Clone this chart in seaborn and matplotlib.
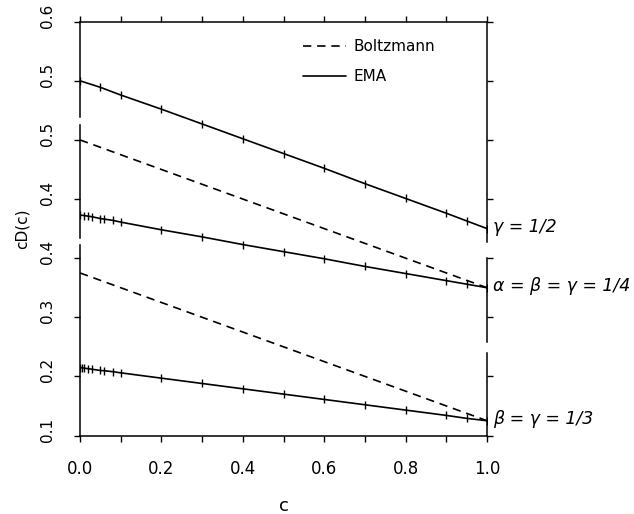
import matplotlib
matplotlib.use("Agg")
import matplotlib.pyplot as plt
from matplotlib.lines import Line2D
from matplotlib.transforms import ScaledTranslation
import seaborn as sns
import pandas as pd

# ---------------- data ----------------
c_top = [0.0, 0.05, 0.1, 0.2, 0.3, 0.4, 0.5, 0.6, 0.7, 0.8, 0.9, 0.95, 1.0]
ema_top = [0.500, 0.489, 0.476, 0.452, 0.427, 0.402, 0.377, 0.352, 0.326, 0.301, 0.276, 0.263, 0.250]

c_mid = [0.0, 0.01, 0.02, 0.03, 0.05, 0.06, 0.08, 0.1, 0.2, 0.3, 0.4, 0.5, 0.6, 0.7, 0.8, 0.9, 0.95, 1.0]
ema_mid = [0.373, 0.372, 0.371, 0.370, 0.367, 0.366, 0.364, 0.361, 0.348, 0.336, 0.323, 0.311,
           0.299, 0.286, 0.274, 0.262, 0.256, 0.250]

c_bot = [0.0, 0.005, 0.01, 0.02, 0.03, 0.05, 0.06, 0.08, 0.1, 0.2, 0.3, 0.4, 0.5, 0.6, 0.7, 0.8,
         0.9, 0.95, 1.0]
ema_bot = [0.215, 0.2145, 0.214, 0.213, 0.212, 0.210, 0.2095, 0.208, 0.206, 0.197, 0.188, 0.179,
           0.170, 0.161, 0.152, 0.143, 0.134, 0.129, 0.125]

c_boltz = [0.0, 0.5, 1.0]
boltz_mid = [0.500, 0.375, 0.250]
boltz_bot = [0.375, 0.250, 0.125]

panel_labels = ["γ = 1/2", "α = β = γ = 1/4", "β = γ = 1/3"]
legend_labels = ["Boltzmann", "EMA"]
x_ticks = [0.0, 0.2, 0.4, 0.6, 0.8, 1.0]
x_minor = [0.1, 0.3, 0.5, 0.7, 0.9]
x_tick_labels = ["0.0", "0.2", "0.4", "0.6", "0.8", "1.0"]
y_left_ticks = [[0.5, 0.6], [0.4, 0.5], [0.1, 0.2, 0.3, 0.4]]
y_right_ticks = [[0.3, 0.4, 0.5, 0.6], [0.2, 0.3], [0.1, 0.2]]

# ---------------- style ----------------
sns.set_style("ticks")
plt.rcParams["font.family"] = ["DejaVu Sans"]
for key in ["text.color", "axes.labelcolor", "xtick.color", "ytick.color", "axes.edgecolor"]:
    plt.rcParams[key] = "black"
plt.rcParams["axes.linewidth"] = 1.1
plt.rcParams["xtick.major.width"] = 1.0
plt.rcParams["ytick.major.width"] = 1.0
plt.rcParams["xtick.minor.width"] = 1.0

fig = plt.figure(figsize=(6.34, 5.14), dpi=100)
fig.patch.set_facecolor("white")
rect = [80 / 634, 1 - 435.5 / 514, 407 / 634, 413.8 / 514]

# panel layout: (y-limits, left spine bounds, right spine bounds)
ylims = [(-0.1, 0.6), (0.0, 0.7), (0.1, 0.8)]
left_bounds = [(0.439, 0.6), (0.334, 0.525), (0.1, 0.422)]
right_bounds = [(0.228, 0.6), (0.158, 0.300), (0.1, 0.240)]

ema_sets = [(c_top, ema_top), (c_mid, ema_mid), (c_bot, ema_bot)]
boltz_sets = [None, (c_boltz, boltz_mid), (c_boltz, boltz_bot)]

line_kw = dict(color="black", linewidth=1.2)
dash = (0, (5, 3.5))
label_shift = ScaledTranslation(0, 6 / 100, fig.dpi_scale_trans)

axes = []
for i in range(3):
    ax = fig.add_axes(rect, label=f"panel{i}")
    ax.patch.set_visible(False)
    ax.set_xlim(0, 1)
    ax.set_ylim(*ylims[i])

    cx, cy = ema_sets[i]
    df = pd.DataFrame({"c": cx, "cD": cy})
    sns.lineplot(data=df, x="c", y="cD", ax=ax, marker="|", markersize=5.5,
                 markeredgecolor="black", markeredgewidth=1.0, **line_kw)
    if boltz_sets[i] is not None:
        bx, by = boltz_sets[i]
        dfb = pd.DataFrame({"c": bx, "cD": by})
        sns.lineplot(data=dfb, x="c", y="cD", ax=ax, linestyle=dash, **line_kw)

    ax.annotate(panel_labels[i], xy=(1.0, cy[-1]), xycoords="data", xytext=(4.5, 1.5),
                textcoords="offset points", ha="left", va="center", fontsize=12.5,
                style="italic", annotation_clip=False)

    # left spine segment
    ax.spines["right"].set_visible(False)
    ax.spines["left"].set_bounds(*left_bounds[i])
    ax.yaxis.tick_left()
    ax.set_yticks(y_left_ticks[i], [f"{v:.1f}" for v in y_left_ticks[i]],
                  rotation=90, va="center", ha="right", fontsize=11)
    ax.tick_params(axis="y", direction="out", length=4, pad=14)
    ax.set_xlabel("")
    ax.set_ylabel("")

    if i < 2:
        ax.spines["top"].set_visible(False)
        ax.spines["bottom"].set_visible(False)
        ax.xaxis.set_visible(False)
    else:
        ax.set_xticks(x_ticks, x_tick_labels, fontsize=12)
        ax.set_xticks(x_minor, minor=True)
        ax.tick_params(axis="x", which="both", top=True, bottom=True, labeltop=False,
                       direction="out", length=4, pad=14)
        ax.set_xlabel("c", fontsize=13)
        ax.xaxis.set_label_coords(0.5, -0.148)
        ax.set_ylabel("cD(c)", fontsize=11)
        ax.yaxis.set_label_coords(-0.125, 0.5)

    # right spine segment (twin with the same scale)
    axr = ax.twinx()
    axr.set_ylim(*ylims[i])
    for s in ["left", "top", "bottom"]:
        axr.spines[s].set_visible(False)
    axr.spines["right"].set_bounds(*right_bounds[i])
    axr.set_yticks(y_right_ticks[i])
    axr.set_yticklabels([])
    axr.tick_params(axis="y", direction="out", length=4)
    axes.append(ax)

    for lab in ax.get_yticklabels():
        lab.set_transform(lab.get_transform() + label_shift)

# legend
handles = [Line2D([], [], linestyle=dash, **line_kw), Line2D([], [], linestyle="-", **line_kw)]
axes[2].legend(handles, legend_labels, loc="upper left", bbox_to_anchor=(0.548, 0.958),
               frameon=False, handlelength=2.8, handletextpad=0.5, labelspacing=1.0,
               fontsize=11, borderaxespad=0, borderpad=0)

fig.savefig("out.png", dpi=100, facecolor="white")
